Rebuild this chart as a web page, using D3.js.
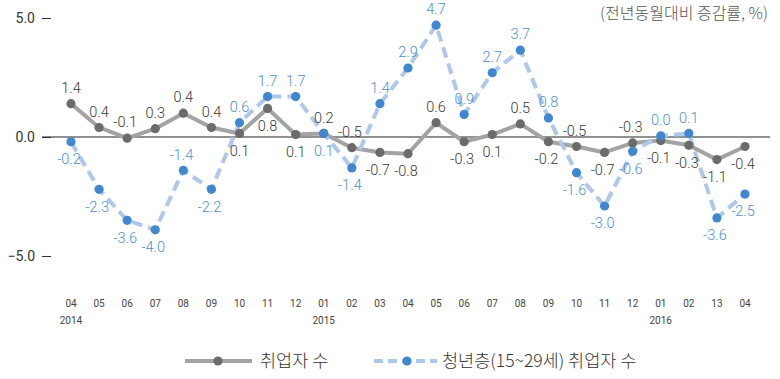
<!DOCTYPE html>
<html>
<head>
<meta charset="utf-8">
<script src="https://cdn.jsdelivr.net/npm/d3@7"></script>
<style>
  body { margin: 0; background: #fff; }
  svg { display: block; }
  text { font-family: Roboto, "DejaVu Sans Condensed", sans-serif; }
  .kr { font-family: "Noto Sans CJK KR", sans-serif; font-weight: 300; }
</style>
</head>
<body>
<svg id="chart" width="780" height="379"></svg>
<script>
// month tick labels, year sub-labels
var months = ["04","05","06","07","08","09","10","11","12","01","02","03","04","05","06","07","08","09","10","11","12","01","02","13","04"];
var years = { 0: "2014", 9: "2015", 21: "2016" };

// 취업자 수 (plotted position) and its printed labels
var totalValues = [1.4, 0.4, -0.05, 0.35, 1.0, 0.4, 0.15, 1.2, 0.1, 0.15, -0.45, -0.65, -0.7, 0.6, -0.2, 0.1, 0.55, -0.2, -0.4, -0.65, -0.25, -0.15, -0.35, -0.95, -0.4];
var totalLabels = ["1.4","0.4","-0.1","0.3","0.4","0.4","0.1","0.8","0.1","0.2","-0.5","-0.7","-0.8","0.6","-0.3","0.1","0.5","-0.2","-0.5","-0.7","-0.3","-0.1","-0.3","-1.1","-0.4"];
var totalSide = ["t","t","t","t","t","t","b","b","b","t","t","b","b","t","b","b","t","b","t","b","t","b","b","b","b"];

// 청년층(15~29세) 취업자 수
var youthValues = [-0.2, -2.2, -3.5, -3.9, -1.4, -2.2, 0.6, 1.7, 1.7, 0.15, -1.3, 1.4, 2.9, 4.7, 0.95, 2.7, 3.65, 0.8, -1.5, -2.9, -0.6, 0.05, 0.15, -3.4, -2.4];
var youthLabels = ["-0.2","-2.3","-3.6","-4.0","-1.4","-2.2","0.6","1.7","1.7","0.1","-1.4","1.4","2.9","4.7","0.9","2.7","3.7","0.8","-1.6","-3.0","-0.6","0.0","0.1","-3.6","-2.5"];
var youthSide = ["b","b","b","b","t","b","t","t","t","b","b","t","t","t","t","t","t","t","b","b","b","t","t","b","b"];

var yTicks = [-5, 0, 5];

var GRAY_LINE = "#a3a3a3", GRAY_DOT = "#6b6b6b", GRAY_TEXT = "#3a3a3a";
var BLUE_LINE = "#aec7ea", BLUE_DOT = "#3f87d0", BLUE_TEXT = "#4a8fd6";

var svg = d3.select("#chart");

var x = d3.scalePoint().domain(d3.range(months.length)).range([71, 745]);
var y = d3.scaleLinear().domain([-5, 5]).range([256, 18]);

//* y axis
var yAxis = svg.append("g")
  .attr("transform", "translate(51,0)")
  .call(d3.axisLeft(y).tickValues(yTicks).tickFormat(d3.format(".1f")).tickSize(9).tickPadding(7));
yAxis.select(".domain").remove();
yAxis.selectAll("line").attr("stroke", "#333");
yAxis.selectAll("text")
  .attr("font-family", "Roboto, sans-serif")
  .attr("font-size", 14)
  .attr("fill", "#333");

//* zero line
svg.append("line")
  .attr("x1", 42).attr("x2", 770)
  .attr("y1", y(0)).attr("y2", y(0))
  .attr("stroke", "#222").attr("stroke-width", 1);

//* x labels
var xl = svg.append("g");
xl.selectAll("text.m").data(months).enter().append("text")
  .attr("class", "m")
  .attr("x", function(d, i){ return x(i); })
  .attr("y", 307)
  .attr("text-anchor", "middle")
  .attr("font-size", 10)
  .attr("fill", "#444")
  .text(function(d){ return d; });
Object.keys(years).forEach(function(k){
  xl.append("text")
    .attr("x", x(+k)).attr("y", 324)
    .attr("text-anchor", "middle")
    .attr("font-size", 10)
    .attr("fill", "#444")
    .text(years[k]);
});

//* unit
svg.append("text").attr("class", "kr")
  .attr("x", 768).attr("y", 19)
  .attr("text-anchor", "end")
  .attr("font-size", 16)
  .attr("fill", "#555")
  .text("(전년동월대비 증감률, %)");

var line = d3.line().x(function(d, i){ return x(i); }).y(function(d){ return y(d); });

//* lines
svg.append("path").datum(totalValues)
  .attr("d", line).attr("fill", "none")
  .attr("stroke", GRAY_LINE).attr("stroke-width", 4).attr("stroke-linejoin", "round");
svg.append("path").datum(youthValues)
  .attr("d", line).attr("fill", "none")
  .attr("stroke", BLUE_LINE).attr("stroke-width", 4).attr("stroke-dasharray", "11,6");

//* dots
svg.append("g").selectAll("circle").data(totalValues).enter().append("circle")
  .attr("cx", function(d, i){ return x(i); }).attr("cy", function(d){ return y(d); })
  .attr("r", 4.6).attr("fill", GRAY_DOT);
svg.append("g").selectAll("circle").data(youthValues).enter().append("circle")
  .attr("cx", function(d, i){ return x(i); }).attr("cy", function(d){ return y(d); })
  .attr("r", 4.6).attr("fill", BLUE_DOT);

//* value labels
function drawLabels(values, labels, side, color) {
  svg.append("g").selectAll("text").data(labels).enter().append("text")
    .attr("x", function(d, i){ return x(i) - (d.charAt(0) === "-" ? 2 : 0); })
    .attr("y", function(d, i){ return y(values[i]) + (side[i] === "t" ? -16 : 17); })
    .attr("dy", "0.36em")
    .attr("text-anchor", "middle")
    .attr("font-size", 14.5)
    .attr("font-weight", 300)
    .attr("fill", color)
    .text(function(d){ return d; });
}
drawLabels(totalValues, totalLabels, totalSide, GRAY_TEXT);
drawLabels(youthValues, youthLabels, youthSide, BLUE_TEXT);

//* legend
var lg = svg.append("g");
lg.append("line").attr("x1", 185).attr("x2", 252).attr("y1", 361).attr("y2", 361)
  .attr("stroke", GRAY_LINE).attr("stroke-width", 4);
lg.append("circle").attr("cx", 218).attr("cy", 361).attr("r", 4.6).attr("fill", GRAY_DOT);
lg.append("text").attr("class", "kr").attr("x", 260).attr("y", 361).attr("dy", "0.35em")
  .attr("font-size", 17.5).attr("fill", "#333").text("취업자 수");

lg.append("line").attr("x1", 374).attr("x2", 437).attr("y1", 361).attr("y2", 361)
  .attr("stroke", BLUE_LINE).attr("stroke-width", 4).attr("stroke-dasharray", "9,5");
lg.append("circle").attr("cx", 407).attr("cy", 361).attr("r", 4.6).attr("fill", BLUE_DOT);
lg.append("text").attr("class", "kr").attr("x", 442).attr("y", 361).attr("dy", "0.35em")
  .attr("font-size", 17.5).attr("fill", "#333").text("청년층(15~29세) 취업자 수");
</script>
</body>
</html>
